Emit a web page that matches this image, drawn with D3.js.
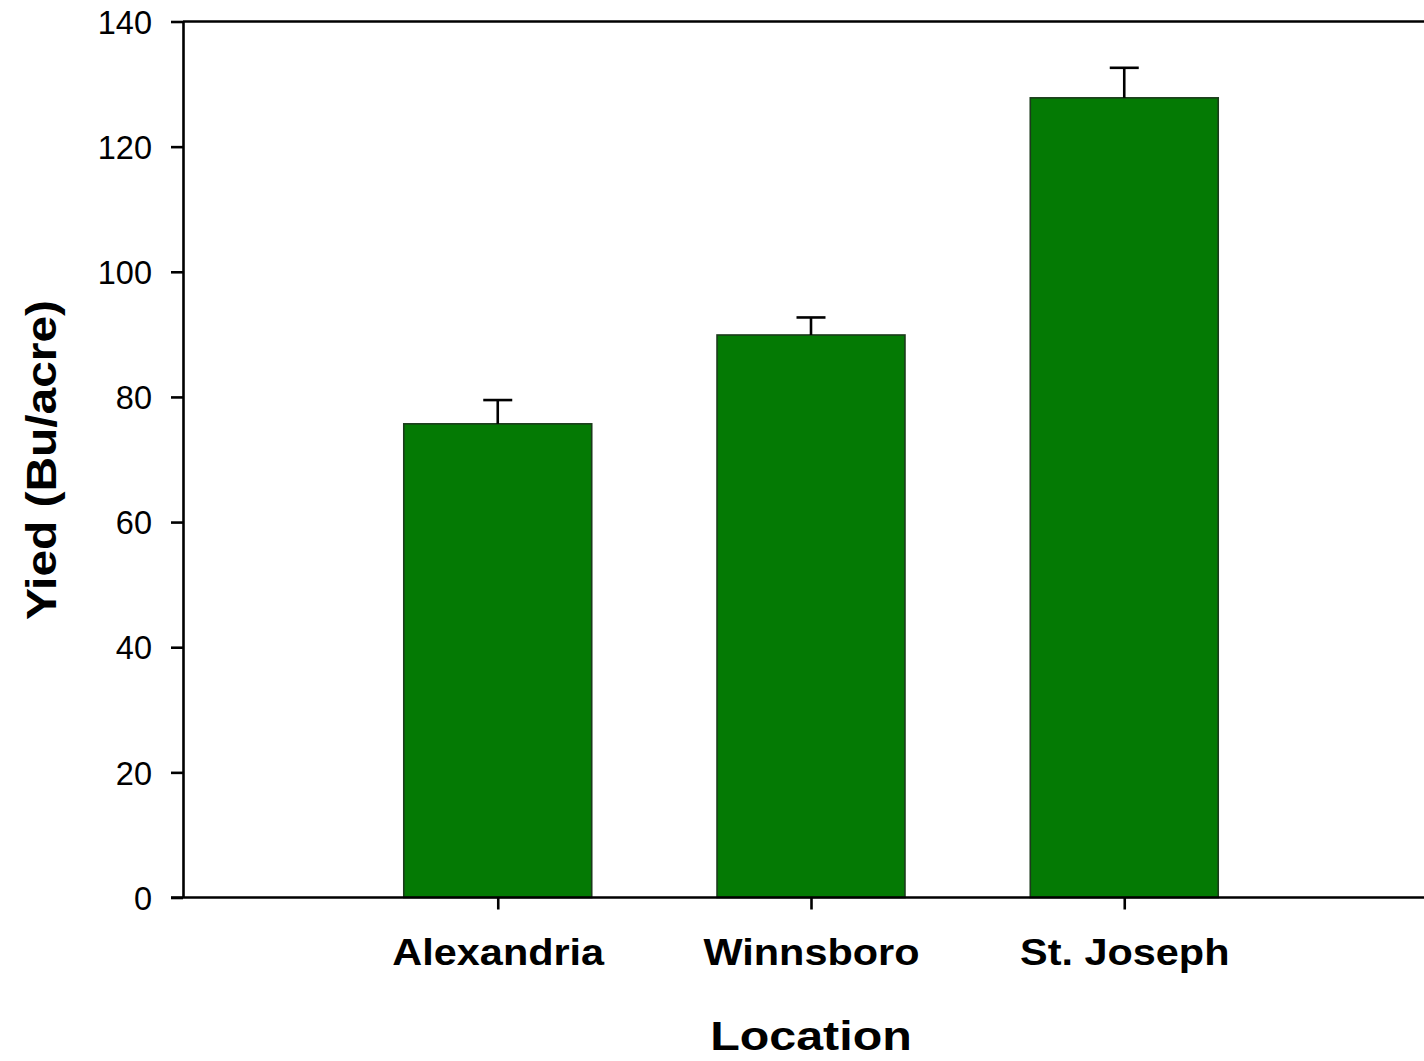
<!DOCTYPE html>
<html>
<head>
<meta charset="utf-8">
<script src="https://cdn.jsdelivr.net/npm/d3@7"></script>
<style>
  html, body { margin: 0; padding: 0; background: #fff; }
  svg { display: block; }
  text { font-family: Arial, "Liberation Sans", sans-serif; fill: #000; }
</style>
</head>
<body>
<script>
// Yield by location with standard error
const locations = ["Alexandria", "Winnsboro", "St. Joseph"];
const yieldMeans = [75.7, 89.9, 127.8];
const yieldErrors = [3.8, 2.8, 4.8];
const yTicks = [0, 20, 40, 60, 80, 100, 120, 140];

const W = 1424, H = 1061;
const svg = d3.select("body").append("svg")
  .attr("width", W).attr("height", H);

// Plot frame: left axis at 183, bottom at 897.5, top at 21.5; right edge runs past the window
const axisX = 183;
const x = d3.scaleLinear().domain([0, locations.length + 1]).range([184.5, 1437.5]);
const y = d3.scaleLinear().domain([0, 140]).range([897.5, 21.5]);
const slot = x(1) - x(0);
const barW = slot * 0.6;

// Bars
svg.append("g").selectAll("rect")
  .data(locations)
  .join("rect")
  .attr("x", (d, i) => x(i + 1) - barW / 2)
  .attr("y", (d, i) => y(yieldMeans[i]))
  .attr("width", barW)
  .attr("height", (d, i) => y(0) - y(yieldMeans[i]))
  .attr("fill", "#047a04")
  .attr("stroke", "#1b3b1b")
  .attr("stroke-width", 1.6);

// Upper error bars with caps
const eb = svg.append("g").attr("stroke", "#000").attr("stroke-width", 2.6);
locations.forEach((d, i) => {
  const cx = x(i + 1);
  eb.append("line")
    .attr("x1", cx).attr("x2", cx)
    .attr("y1", y(yieldMeans[i])).attr("y2", y(yieldMeans[i] + yieldErrors[i]));
  eb.append("line")
    .attr("x1", cx - 14.5).attr("x2", cx + 14.5)
    .attr("y1", y(yieldMeans[i] + yieldErrors[i])).attr("y2", y(yieldMeans[i] + yieldErrors[i]));
});

// Top frame line
svg.append("line")
  .attr("x1", axisX).attr("x2", x(locations.length + 1))
  .attr("y1", y(140)).attr("y2", y(140))
  .attr("stroke", "#000").attr("stroke-width", 2.6);

// Y axis
const yAxis = svg.append("g")
  .attr("transform", `translate(${axisX},0)`)
  .call(d3.axisLeft(y).tickValues(yTicks).tickSize(12).tickSizeOuter(0).tickPadding(19));
yAxis.select(".domain").attr("stroke-width", 2.6);
yAxis.selectAll(".tick line").attr("stroke-width", 2.6);
yAxis.selectAll(".tick text")
  .style("font-size", "32.5px")
  .attr("dy", "0.36em");

// X axis
const xAxis = svg.append("g")
  .attr("transform", `translate(0,${y(0)})`)
  .call(d3.axisBottom(x)
    .tickValues(locations.map((d, i) => i + 1))
    .tickFormat((d) => locations[d - 1])
    .tickSize(12).tickSizeOuter(0).tickPadding(0));
xAxis.select(".domain")
  .attr("d", `M${axisX - 12},0H${x(locations.length + 1)}`)
  .attr("stroke-width", 2.6);
xAxis.selectAll(".tick line").attr("stroke-width", 2.6);
xAxis.selectAll(".tick text")
  .attr("y", 0).attr("dy", 0)
  .attr("transform", "translate(0,67) scale(1.12,1)")
  .style("font-size", "37px")
  .style("font-weight", "bold");

// Axis titles
svg.append("text")
  .attr("transform", `translate(${x(2)},1050) scale(1.18,1)`)
  .attr("text-anchor", "middle")
  .style("font-size", "41px")
  .style("font-weight", "bold")
  .text("Location");

svg.append("text")
  .attr("transform", "translate(56,460) rotate(-90) scale(1.14,1)")
  .attr("text-anchor", "middle")
  .style("font-size", "42px")
  .style("font-weight", "bold")
  .text("Yied (Bu/acre)");
</script>
</body>
</html>
